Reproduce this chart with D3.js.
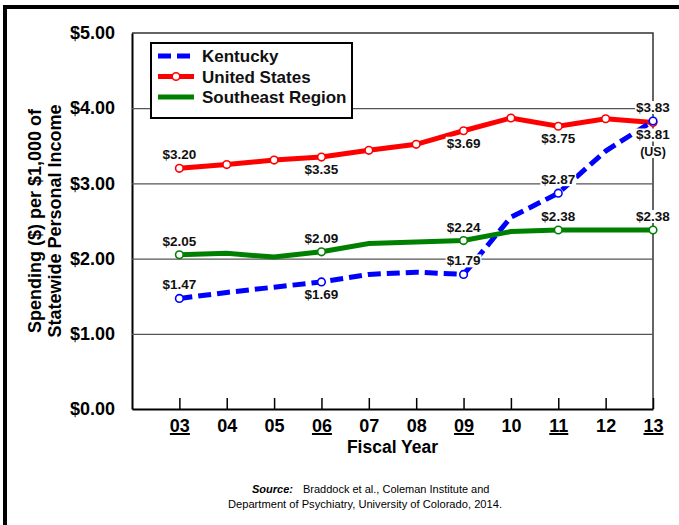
<!DOCTYPE html>
<html>
<head>
<meta charset="utf-8">
<script src="https://cdn.jsdelivr.net/npm/d3@7"></script>
<style>
  body { margin: 0; background: #fff; }
  text { font-family: Arial, "Liberation Sans", sans-serif; }
</style>
</head>
<body>
<svg id="chart" width="679" height="525"></svg>
<script>
  "use strict";

  // fiscal years (x) and tick labels
  var years = [3, 4, 5, 6, 7, 8, 9, 10, 11, 12, 13];
  var yearLabels = ["03", "04", "05", "06", "07", "08", "09", "10", "11", "12", "13"];
  var underlinedYears = ["03", "06", "09", "11", "13"];
  var yTicks = [0, 1, 2, 3, 4, 5];

  // spending per $1,000 of statewide personal income
  var kentucky = [1.47, 1.55, 1.62, 1.69, 1.79, 1.82, 1.79, 2.55, 2.87, 3.43, 3.83];
  var unitedStates = [3.20, 3.25, 3.31, 3.35, 3.44, 3.52, 3.70, 3.87, 3.76, 3.86, 3.81];
  var southeast = [2.05, 2.07, 2.02, 2.09, 2.20, 2.22, 2.24, 2.36, 2.38, 2.38, 2.38];

  // which points get a marker / a value label
  var kentuckyMarked = [0, 3, 6, 8, 10];
  var southeastMarked = [0, 3, 6, 8, 10];
  var kentuckyLabels = [[0, "$1.47", "above"], [3, "$1.69", "below"], [6, "$1.79", "above"], [8, "$2.87", "above"], [10, "$3.83", "above"]];
  var usLabels = [[0, "$3.20", "above"], [3, "$3.35", "below"], [6, "$3.69", "below"], [8, "$3.75", "below"], [10, "$3.81", "below"]];
  var southeastLabels = [[0, "$2.05", "above"], [3, "$2.09", "above"], [6, "$2.24", "above"], [8, "$2.38", "above"], [10, "$2.38", "above"]];

  (function () {
    var svg = d3.select("#chart");
    var pLeft = 132, pRight = 653, pTop = 33, pBottom = 409;

    var x = d3.scaleLinear().domain([2, 13]).range([pLeft, pRight]);
    var y = d3.scaleLinear().domain([0, 5]).range([pBottom, pTop]);

    // outer frame
    svg.append("rect")
      .attr("x", 5).attr("y", 7).attr("width", 700).attr("height", 540)
      .attr("fill", "none").attr("stroke", "#000").attr("stroke-width", 4);

    // plot frame (top/right)
    svg.append("path")
      .attr("d", "M" + pLeft + "," + pTop + "H" + pRight + "V" + pBottom)
      .attr("fill", "none").attr("stroke", "#333").attr("stroke-width", 1.5);

    // y axis with gridlines
    var yAxis = svg.append("g")
      .attr("transform", "translate(" + pLeft + ",0)")
      .call(d3.axisLeft(y).tickValues(yTicks).tickSizeInner(-(pRight - pLeft)).tickSizeOuter(0)
        .tickPadding(17).tickFormat(d3.format("$.2f")));
    yAxis.select(".domain").attr("stroke", "#000").attr("stroke-width", 2);
    yAxis.selectAll(".tick line").attr("stroke", "#555").attr("stroke-width", 1.2)
      .filter(function (d) { return d === 0 || d === 5; }).remove();
    yAxis.selectAll(".tick text").attr("font-size", 18).attr("font-weight", "bold").attr("fill", "#000");

    // x axis
    var xAxis = svg.append("g")
      .attr("transform", "translate(0," + pBottom + ")")
      .call(d3.axisBottom(x).tickValues(years).tickSizeInner(-11).tickSizeOuter(0)
        .tickPadding(10).tickFormat(function (d, i) { return yearLabels[i]; }));
    xAxis.select(".domain").attr("stroke", "#000").attr("stroke-width", 2);
    xAxis.selectAll(".tick line").attr("stroke", "#000").attr("stroke-width", 1.5);
    xAxis.selectAll(".tick text").attr("font-size", 18).attr("font-weight", "bold").attr("fill", "#000");
    xAxis.selectAll(".tick").each(function (d, i) {
      if (underlinedYears.indexOf(yearLabels[i]) < 0) return;
      var bb = this.querySelector("text").getBBox();
      d3.select(this).append("line")
        .attr("x1", bb.x).attr("x2", bb.x + bb.width)
        .attr("y1", 25).attr("y2", 25)
        .attr("stroke", "#000").attr("stroke-width", 2);
    });

    // axis titles
    svg.append("text")
      .attr("x", (pLeft + pRight) / 2).attr("y", 453)
      .attr("text-anchor", "middle").attr("font-size", 17.5).attr("font-weight", "bold")
      .text("Fiscal Year");

    var yTitle = svg.append("text")
      .attr("transform", "translate(41," + ((pTop + pBottom) / 2) + ") rotate(-90)")
      .attr("text-anchor", "middle").attr("font-size", 18).attr("font-weight", "bold");
    yTitle.append("tspan").attr("x", 0).attr("y", 0).text("Spending ($) per $1,000 of");
    yTitle.append("tspan").attr("x", 0).attr("y", 20).text("Statewide Personal Income");

    // series lines
    var series = [
      {name: "United States", values: unitedStates, color: "#ff0000", dash: null, marked: d3.range(years.length), labels: usLabels},
      {name: "Kentucky", values: kentucky, color: "#0000ff", dash: "13,6", marked: kentuckyMarked, labels: kentuckyLabels},
      {name: "Southeast Region", values: southeast, color: "#008000", dash: null, marked: southeastMarked, labels: southeastLabels}
    ];

    var line = d3.line()
      .x(function (d, i) { return x(years[i]); })
      .y(function (d) { return y(d); });

    series.forEach(function (s) {
      svg.append("path")
        .attr("d", line(s.values))
        .attr("fill", "none").attr("stroke", s.color).attr("stroke-width", 5)
        .attr("stroke-dasharray", s.dash);
    });

    series.forEach(function (s) {
      svg.append("g").selectAll("circle")
        .data(s.marked).enter().append("circle")
        .attr("cx", function (i) { return x(years[i]); })
        .attr("cy", function (i) { return y(s.values[i]); })
        .attr("r", 3.8)
        .attr("fill", "#fff").attr("stroke", s.color).attr("stroke-width", 1.6);
    });

    // value labels with white backing
    var labelLayer = svg.append("g");
    function addLabel(lx, ly, txt, size) {
      var t = labelLayer.append("text")
        .attr("x", lx).attr("y", ly)
        .attr("text-anchor", "middle").attr("font-size", size).attr("font-weight", "bold")
        .attr("fill", "#111").text(txt);
      var bb = t.node().getBBox();
      labelLayer.insert("rect", function () { return t.node(); })
        .attr("x", bb.x - 1).attr("y", bb.y + 1).attr("width", bb.width + 2).attr("height", bb.height - 2)
        .attr("fill", "#fff");
    }
    series.forEach(function (s) {
      s.labels.forEach(function (l) {
        var px = x(years[l[0]]), py = y(s.values[l[0]]);
        addLabel(px, l[2] === "above" ? py - 9 : py + 17, l[1], 13.5);
      });
    });
    addLabel(x(13), 156, "(US)", 12.5);

    // legend
    var legend = svg.append("g");
    legend.append("rect")
      .attr("x", 151).attr("y", 43).attr("width", 201).attr("height", 75)
      .attr("fill", "#fff").attr("stroke", "#000").attr("stroke-width", 2);
    var legendOrder = [series[1], series[0], series[2]];
    legendOrder.forEach(function (s, i) {
      var ly = 56 + i * 20.5;
      legend.append("line")
        .attr("x1", 158).attr("x2", 194).attr("y1", ly).attr("y2", ly)
        .attr("stroke", s.color).attr("stroke-width", 5).attr("stroke-dasharray", s.dash);
      if (s.name === "United States") {
        legend.append("circle").attr("cx", 176).attr("cy", ly).attr("r", 3.8)
          .attr("fill", "#fff").attr("stroke", s.color).attr("stroke-width", 1.6);
      }
      legend.append("text")
        .attr("x", 202).attr("y", ly + 6)
        .attr("font-size", 17).attr("font-weight", "bold").attr("fill", "#111")
        .text(s.name);
    });

    // source note
    var src = svg.append("text").attr("x", 252).attr("y", 493).attr("font-size", 11);
    src.append("tspan").attr("font-weight", "bold").attr("font-style", "italic").text("Source:");
    src.append("tspan").attr("dx", 10).text("Braddock et al., Coleman Institute and");
    svg.append("text")
      .attr("x", 228).attr("y", 508).attr("font-size", 11)
      .attr("textLength", 274).attr("lengthAdjust", "spacingAndGlyphs")
      .text("Department of Psychiatry, University of Colorado, 2014.");
  })();
</script>
</body>
</html>
